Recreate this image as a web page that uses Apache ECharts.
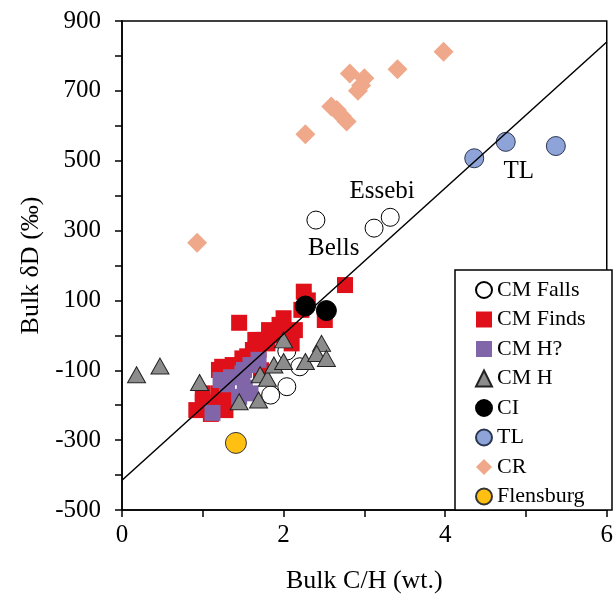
<!DOCTYPE html>
<html><head><meta charset="utf-8">
<script src="https://cdn.jsdelivr.net/npm/echarts@6/dist/echarts.min.js"></script>
<style>html,body{margin:0;padding:0;background:#fff}#c{width:616px;height:605px}</style>
</head><body><div id="c"></div>
<script>
// ---- data ----
const cmFallsX = [2.40, 3.12, 3.32, 1.84, 2.04, 2.20, 2.04];
const cmFallsY = [330, 307, 338, -171, -147, -90, -45];

const cmFindsX = [0.92, 1.00, 1.10, 1.00, 1.20, 1.28, 1.33, 1.20, 1.24, 1.37, 1.41, 1.49, 1.55, 1.62, 1.65, 1.69, 1.75, 1.80, 1.82, 1.90, 2.00, 2.06, 2.10, 2.14, 2.22, 2.25, 2.51, 2.76, 1.45, 1.15, 2.30, 1.95, 1.72];
const cmFindsY = [-214, -190, -225, -166, -166, -214, -185, -99, -90, -85, -90, -66, -60, -42, -13, -42, -13, -23, 15, 0, 49, -4, -23, 15, 73, 125, 44, 144, 36, -200, 100, 30, -100];

const cmHqX = [1.12, 1.22, 1.35, 1.49, 1.51, 1.59, 1.69, 1.45, 1.59, 1.52, 1.30];
const cmHqY = [-222, -128, -120, -109, -99, -85, -70, -176, -166, -150, -140];

const cmHX = [0.18, 0.47, 0.96, 1.45, 1.69, 1.71, 1.80, 1.88, 2.00, 2.27, 2.47, 2.41, 2.53, 2.00];
const cmHY = [-113, -88, -135, -190, -185, -113, -123, -85, -75, -75, -23, -52, -66, -13];

const ciX = [2.27, 2.53];
const ciY = [84, 71];

const tlX = [4.36, 4.75, 5.37];
const tlY = [507, 554, 542];

const crX = [0.93, 2.27, 2.59, 2.66, 2.72, 2.78, 2.82, 2.92, 3.00, 2.96, 3.41, 3.98];
const crY = [265, 576, 655, 645, 628, 612, 750, 700, 736, 715, 762, 812];

const flX = [1.41];
const flY = [-308];

const lineX = [0, 6];
const lineY = [-415, 840];

const annNames = ['Essebi', 'Bells', 'TL'];
const annX = [3.22, 2.62, 4.91];
const annY = [413, 250, 468];

const xTicks = ['0', '2', '4', '6'];
const yTicks = ['-500', '-300', '-100', '100', '300', '500', '700', '900'];

// ---- chart ----
const zip = (xs, ys) => xs.map((x, i) => [x, ys[i]]);
const FONT = '"Liberation Serif", "DejaVu Serif", serif';

const chart = echarts.init(document.getElementById('c'), null, {renderer: 'canvas'});
const base = {type: 'scatter', z: 2, emphasis: {disabled: true}};
chart.setOption({
  animation: false,
  backgroundColor: '#fff',
  textStyle: {fontFamily: FONT},
  grid: {left: 122, right: 4, top: 21, bottom: 95, show: true, borderColor: '#000', borderWidth: 1.5, backgroundColor: 'transparent'},
  xAxis: {
    type: 'value', min: 0, max: 6, interval: 1,
    name: 'Bulk C/H (wt.)', nameLocation: 'middle', nameGap: 58,
    nameTextStyle: {fontSize: 26, color: '#000', fontFamily: FONT},
    axisLine: {show: true, onZero: false, lineStyle: {color: '#000', width: 1.5}},
    axisTick: {show: true, inside: false, length: 7, lineStyle: {color: '#000', width: 1.5}},
    axisLabel: {fontSize: 25, color: '#000', fontFamily: FONT, margin: 13,
      formatter: v => xTicks.includes(String(v)) ? String(v) : ''},
    splitLine: {show: false}
  },
  yAxis: {
    type: 'value', min: -500, max: 900, interval: 100,
    name: 'Bulk δD (‰)', nameLocation: 'middle', nameGap: 69,
    nameTextStyle: {fontSize: 26, color: '#000', fontFamily: FONT},
    axisLine: {show: true, onZero: false, lineStyle: {color: '#000', width: 1.5}},
    axisTick: {show: true, inside: false, length: 7, lineStyle: {color: '#000', width: 1.5}},
    axisLabel: {fontSize: 25, color: '#000', fontFamily: FONT, margin: 21,
      formatter: v => yTicks.includes(String(v)) ? String(v) : ''},
    splitLine: {show: false}
  },
  legend: {
    orient: 'vertical', left: 470, top: 274, z: 10,
    itemWidth: 16, itemHeight: 16, itemGap: 7.5,
    textStyle: {fontSize: 22, color: '#000', fontFamily: FONT},
    data: ['CM Falls', 'CM Finds', 'CM H?', 'CM H', 'CI', 'TL', 'CR', 'Flensburg']
  },
  graphic: [{type: 'rect', z: 5, shape: {x: 455, y: 270, width: 157, height: 240},
    style: {fill: '#fff', stroke: '#000', lineWidth: 1.5}}],
  series: [
    {...base, name: 'CM Falls', data: zip(cmFallsX, cmFallsY), symbol: 'circle', symbolSize: 18,
      itemStyle: {color: '#fff', borderColor: '#000', borderWidth: 1, opacity: 1}},
    {...base, name: 'CM Finds', data: zip(cmFindsX, cmFindsY), symbol: 'rect', symbolSize: 16,
      itemStyle: {color: '#E0101A', opacity: 1}},
    {...base, name: 'CM H?', data: zip(cmHqX, cmHqY), symbol: 'rect', symbolSize: 16,
      itemStyle: {color: '#8066A8', opacity: 1}},
    {...base, name: 'CM H', data: zip(cmHX, cmHY), symbol: 'triangle', symbolSize: [18, 16],
      itemStyle: {color: '#8C8C8C', borderColor: '#222', borderWidth: 1, opacity: 1}},
    {...base, name: 'CI', data: zip(ciX, ciY), symbol: 'circle', symbolSize: 20,
      itemStyle: {color: '#000', borderColor: '#000', borderWidth: 1, opacity: 1}},
    {...base, name: 'TL', data: zip(tlX, tlY), symbol: 'circle', symbolSize: 19,
      itemStyle: {color: '#8EA4D8', borderColor: '#2A3550', borderWidth: 1, opacity: 1}},
    {...base, name: 'CR', data: zip(crX, crY), symbol: 'diamond', symbolSize: 20,
      itemStyle: {color: '#F0A88A', opacity: 1}},
    {...base, name: 'Flensburg', data: zip(flX, flY), symbol: 'circle', symbolSize: 21,
      itemStyle: {color: '#FFC012', borderColor: '#333', borderWidth: 1, opacity: 1}},
    {type: 'line', name: 'fit', data: zip(lineX, lineY), symbol: 'none', z: 3, silent: true,
      lineStyle: {color: '#000', width: 1.5}},
    {type: 'scatter', name: 'labels', symbolSize: 0, silent: true, z: 4,
      itemStyle: {opacity: 1},
      data: annNames.map((n, i) => ({name: n, value: [annX[i], annY[i]]})),
      label: {show: true, position: 'inside', formatter: p => p.name, fontSize: 25, color: '#000',
        textBorderWidth: 0, fontFamily: FONT}}
  ]
});
</script>
</body></html>
